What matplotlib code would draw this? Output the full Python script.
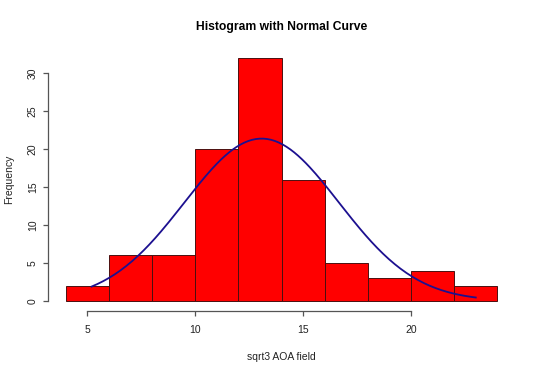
import numpy as np
import matplotlib
matplotlib.use("Agg")
import matplotlib.pyplot as plt

# histogram of sqrt3 AOA field
bin_edges = [4, 6, 8, 10, 12, 14, 16, 18, 20, 22, 24]
counts = [2, 6, 6, 20, 32, 16, 5, 3, 4, 2]

# normal curve fitted to the data (drawn over data min..max)
fit_mean = 13.08
fit_sd = 3.58
data_min, data_max = 5.2, 23.0

x_ticks = [5, 10, 15, 20]
y_ticks = [0, 5, 10, 15, 20, 25, 30]

plt.rcParams['font.family'] = ['Liberation Sans', 'DejaVu Sans']

fig = plt.figure(figsize=(5.4, 3.72), dpi=100)
left, right, top, bottom = 48.4, 514.6, 48.4, 310.7
ax = fig.add_axes([left / 540, 1 - bottom / 372, (right - left) / 540, (bottom - top) / 372])

edges = np.array(bin_edges, dtype=float)
widths = np.diff(edges)
ax.bar(edges[:-1], counts, width=widths, align='edge',
       color='#ff0000', edgecolor='#4a1010', linewidth=0.7)

n = sum(counts)
binw = widths[0]
xs = np.linspace(data_min, data_max, 200)
ys = n * binw * np.exp(-0.5 * ((xs - fit_mean) / fit_sd) ** 2) / (fit_sd * np.sqrt(2 * np.pi))
ax.plot(xs, ys, color='#1c1090', linewidth=1.3)

# R-like limits (4% extension)
xr = edges[-1] - edges[0]
ax.set_xlim(edges[0] - 0.04 * xr, edges[-1] + 0.04 * xr)
yr = max(counts)
ax.set_ylim(-0.04 * yr, yr * 1.04)

for s in ['top', 'right']:
    ax.spines[s].set_visible(False)
ax.spines['bottom'].set_bounds(x_ticks[0], x_ticks[-1])
ax.spines['left'].set_bounds(y_ticks[0], y_ticks[-1])
for s in ['bottom', 'left']:
    ax.spines[s].set_color('#555555')
    ax.spines[s].set_linewidth(0.9)

ax.set_xticks(x_ticks)
ax.set_yticks(y_ticks)
ax.tick_params(axis='both', length=3.6, width=0.9, color='#555555',
               labelsize=7.5, labelcolor='#222222')
ax.tick_params(axis='x', pad=7)
ax.tick_params(axis='y', pad=4)
for lab in ax.get_yticklabels():
    lab.set_rotation(90)
    lab.set_verticalalignment('center')

ax.set_xlabel('sqrt3 AOA field', fontsize=7.5, color='#222222', labelpad=12)
ax.set_ylabel('Frequency', fontsize=7.5, color='#222222', va='center')
ax.yaxis.set_label_coords((9 - left) / (right - left), 0.5)
ax.set_title('Histogram with Normal Curve', fontsize=8.7, fontweight='bold', pad=13)

fig.savefig('out.png', dpi=100)
